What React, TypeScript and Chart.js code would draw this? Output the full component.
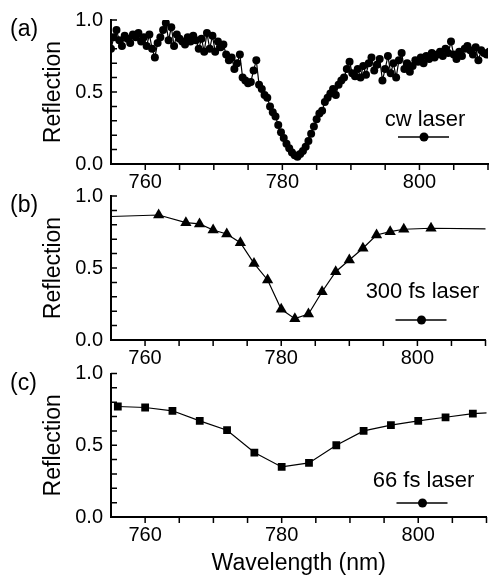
import React, { useEffect, useRef } from "react";
import { Chart, registerables } from "chart.js";

Chart.register(...registerables);

const FONT = '"Liberation Sans", Arial, Helvetica, sans-serif';

// ---- data ----
const cwWavelength = [
  755.0, 755.4, 755.8, 756.2, 756.6, 757.0, 757.4, 757.8, 758.2, 758.6,
  759.0, 759.4, 759.8, 760.2, 760.6, 761.0, 761.4, 761.8, 762.2, 762.6,
  763.0, 763.4, 763.8, 764.2, 764.6, 765.0, 765.4, 765.8, 766.2, 766.6,
  767.0, 767.4, 767.8, 768.2, 768.6, 769.0, 769.4, 769.8, 770.2, 770.6,
  771.0, 771.4, 771.8, 772.2, 772.6, 773.0, 773.4, 773.8, 774.2, 774.6,
  775.0, 775.4, 775.8, 776.2, 776.6, 777.0, 777.4, 777.8, 778.2, 778.6,
  779.0, 779.4, 779.8, 780.2, 780.6, 781.0, 781.4, 781.8, 782.2, 782.6,
  783.0, 783.4, 783.8, 784.2, 784.6, 785.0, 785.4, 785.8, 786.2, 786.6,
  787.0, 787.4, 787.8, 788.2, 788.6, 789.0, 789.4, 789.8, 790.2, 790.6,
  791.0, 791.4, 791.8, 792.2, 792.6, 793.0, 793.4, 793.8, 794.2, 794.6,
  795.0, 795.4, 795.8, 796.2, 796.6, 797.0, 797.4, 797.8, 798.2, 798.6,
  799.0, 799.4, 799.8, 800.2, 800.6, 801.0, 801.4, 801.8, 802.2, 802.6,
  803.0, 803.4, 803.8, 804.2, 804.6, 805.0, 805.4, 805.8, 806.2, 806.6,
  807.0, 807.4, 807.8, 808.2, 808.6, 809.0, 809.4, 809.8, 810.2,
];
const cwReflection = [
  0.80, 0.88, 0.93, 0.86, 0.82, 0.89, 0.87, 0.84, 0.90, 0.88,
  0.91, 0.85, 0.88, 0.82, 0.90, 0.80, 0.74, 0.84, 0.88, 0.93,
  0.98, 0.86, 0.95, 0.82, 0.90, 0.87, 0.85, 0.83, 0.88, 0.85,
  0.89, 0.86, 0.80, 0.87, 0.78, 0.91, 0.80, 0.89, 0.78, 0.85,
  0.81, 0.83, 0.76, 0.72, 0.74, 0.66, 0.70, 0.76, 0.60, 0.58,
  0.56, 0.57, 0.65, 0.72, 0.55, 0.52, 0.48, 0.46, 0.40, 0.36,
  0.33, 0.27, 0.22, 0.18, 0.14, 0.11, 0.08, 0.06, 0.05, 0.07,
  0.09, 0.12, 0.16, 0.21, 0.26, 0.31, 0.35, 0.37, 0.43, 0.46,
  0.49, 0.52, 0.48, 0.55, 0.58, 0.60, 0.66, 0.71, 0.63, 0.61,
  0.66, 0.60, 0.68, 0.62, 0.70, 0.74, 0.65, 0.69, 0.73, 0.58,
  0.66, 0.75, 0.63, 0.70, 0.60, 0.72, 0.77, 0.66, 0.70, 0.64,
  0.68, 0.72, 0.71, 0.74, 0.70, 0.75, 0.73, 0.77, 0.74, 0.76,
  0.78, 0.75, 0.80, 0.77, 0.85, 0.76, 0.73, 0.78, 0.75, 0.80,
  0.82, 0.79, 0.76, 0.81, 0.72, 0.79, 0.77, 0.76, 0.78,
];

const fs300Wavelength = [750, 762, 766, 768, 770, 772, 774, 776, 778, 780, 782, 784, 786, 788, 790, 792, 794, 796, 798, 802, 815];
const fs300Reflection = [0.85, 0.868, 0.815, 0.806, 0.764, 0.736, 0.676, 0.532, 0.417, 0.213, 0.148, 0.18, 0.335, 0.474, 0.556, 0.637, 0.729, 0.752, 0.769, 0.776, 0.77];

const fs66Wavelength = [756, 760, 764, 768, 772, 776, 780, 784, 788, 792, 796, 800, 804, 808, 812];
const fs66Reflection = [0.77, 0.763, 0.74, 0.67, 0.605, 0.449, 0.349, 0.377, 0.5, 0.6, 0.64, 0.67, 0.695, 0.72, 0.73];

const xTickValues = [760, 780, 800];
const yTickValues = [0, 0.5, 1.0];
const xMinorTicks = [760, 765, 770, 775, 780, 785, 790, 795, 800, 805, 810];
const yMinorTicks = [0, 0.1, 0.2, 0.3, 0.4, 0.5, 0.6, 0.7, 0.8, 0.9, 1.0];

const panelLabels = ["(a)", "(b)", "(c)"];
const legendLabels = ["cw laser", "300 fs laser", "66 fs laser"];
const xAxisTitle = "Wavelength (nm)";
const yAxisTitle = "Reflection";

// ---- layout (positions/styles) ----
const W = 492;
const H = 578;

type Spec = {
  label: string;
  legend: string;
  xs: number[];
  ys: number[];
  pointStyle: string;
  pointRadius: number;
  top: number;
  bottom: number;
  xAxisHeight: number;
  showXTitle: boolean;
  legendBaseline: number;
  legendSymbol: number;
};

const specs: Spec[] = [
  {
    label: panelLabels[0], legend: legendLabels[0], xs: cwWavelength, ys: cwReflection,
    pointStyle: "circle", pointRadius: 4, top: 17, bottom: 164, xAxisHeight: 40,
    showXTitle: false, legendBaseline: -38, legendSymbol: -27,
  },
  {
    label: panelLabels[1], legend: legendLabels[1], xs: fs300Wavelength, ys: fs300Reflection,
    pointStyle: "triangle", pointRadius: 6.5, top: 196, bottom: 340, xAxisHeight: 40,
    showXTitle: false, legendBaseline: -42, legendSymbol: -20,
  },
  {
    label: panelLabels[2], legend: legendLabels[2], xs: fs66Wavelength, ys: fs66Reflection,
    pointStyle: "rect", pointRadius: 5.5, top: 373.5, bottom: 517, xAxisHeight: 61,
    showXTitle: true, legendBaseline: -30, legendSymbol: -14,
  },
];

function Panel({ spec }: { spec: Spec }) {
  const ref = useRef<HTMLCanvasElement>(null);
  useEffect(() => {
    const canvas = ref.current;
    if (!canvas) return;
    const decor = {
      id: "decor",
      afterDraw(chart: any) {
        const { ctx, chartArea, scales } = chart;
        const xs = scales.x;
        const ys = scales.y;
        ctx.save();
        ctx.strokeStyle = "#000";
        ctx.lineWidth = 1.5;
        ctx.beginPath();
        yMinorTicks.forEach((v) => {
          const py = ys.getPixelForValue(v);
          ctx.moveTo(chartArea.left, py);
          ctx.lineTo(chartArea.left + 6, py);
        });
        xMinorTicks.forEach((v) => {
          const px = xs.getPixelForValue(v);
          ctx.moveTo(px, chartArea.bottom);
          ctx.lineTo(px, chartArea.bottom + 6);
        });
        ctx.stroke();

        ctx.fillStyle = "#000";
        ctx.font = `23px ${FONT}`;
        ctx.textAlign = "left";
        ctx.textBaseline = "middle";
        ctx.fillText(spec.label, 10, chartArea.top + 10);

        ctx.font = `22px ${FONT}`;
        ctx.textAlign = "center";
        ctx.textBaseline = "alphabetic";
        ctx.fillText(spec.legend, chartArea.right - 63, chartArea.bottom + spec.legendBaseline);
        const sy = chartArea.bottom + spec.legendSymbol;
        ctx.lineWidth = 1.3;
        ctx.beginPath();
        ctx.moveTo(chartArea.right - 90, sy);
        ctx.lineTo(chartArea.right - 39, sy);
        ctx.stroke();
        ctx.beginPath();
        ctx.arc(chartArea.right - 64, sy, 4.5, 0, Math.PI * 2);
        ctx.fill();
        ctx.restore();
      },
    };

    const chart = new Chart(canvas, {
      type: "line",
      data: {
        datasets: [
          {
            data: spec.xs.map((x, i) => ({ x, y: spec.ys[i] })),
            borderColor: "#000",
            backgroundColor: "#000",
            borderWidth: 1.2,
            pointStyle: spec.pointStyle as any,
            pointRadius: spec.pointRadius,
            pointBorderWidth: 0,
            pointBackgroundColor: "#000",
            pointBorderColor: "#000",
            tension: 0,
            fill: false,
          },
        ],
      },
      options: {
        animation: false,
        responsive: false,
        devicePixelRatio: 1,
        events: [],
        layout: {
          padding: { top: spec.top, bottom: H - spec.bottom - spec.xAxisHeight, left: 0, right: 0 },
        },
        plugins: {
          legend: { display: false },
          tooltip: { enabled: false },
          title: { display: false },
        },
        scales: {
          x: {
            type: "linear",
            min: 755,
            max: 810,
            afterBuildTicks: (s: any) => {
              s.ticks = xTickValues.map((v) => ({ value: v }));
            },
            afterFit: (s: any) => {
              s.height = spec.xAxisHeight;
            },
            grid: { display: true, drawOnChartArea: false, drawTicks: false },
            border: { display: true, color: "#000", width: 2 },
            ticks: {
              color: "#000",
              font: { size: 20, family: FONT },
              padding: 6,
              maxRotation: 0,
              autoSkip: false,
              callback: (v: any) => String(v),
            },
            title: {
              display: spec.showXTitle,
              text: xAxisTitle,
              color: "#000",
              font: { size: 23, family: FONT },
              padding: { top: 0, bottom: 1 },
            },
          },
          y: {
            type: "linear",
            min: 0,
            max: 1,
            afterBuildTicks: (s: any) => {
              s.ticks = yTickValues.map((v) => ({ value: v }));
            },
            afterFit: (s: any) => {
              s.width = 111;
            },
            grid: { display: true, drawOnChartArea: false, drawTicks: false },
            border: { display: true, color: "#000", width: 2 },
            ticks: {
              color: "#000",
              font: { size: 20, family: FONT },
              padding: 8,
              callback: (v: any) => Number(v).toFixed(1),
            },
            title: {
              display: true,
              text: yAxisTitle,
              color: "#000",
              font: { size: 23, family: FONT },
              padding: { top: 40, bottom: 0 },
            },
          },
        },
      } as any,
      plugins: [decor],
    });
    return () => chart.destroy();
  }, [spec]);

  return (
    <canvas
      ref={ref}
      width={W}
      height={H}
      style={{ position: "absolute", left: 0, top: 0, width: W, height: H }}
    />
  );
}

export default function App() {
  return (
    <div
      style={{
        position: "absolute",
        left: 0,
        top: 0,
        width: W,
        height: H,
        background: "#fff",
        overflow: "hidden",
      }}
    >
      {specs.map((s, i) => (
        <Panel key={i} spec={s} />
      ))}
    </div>
  );
}
